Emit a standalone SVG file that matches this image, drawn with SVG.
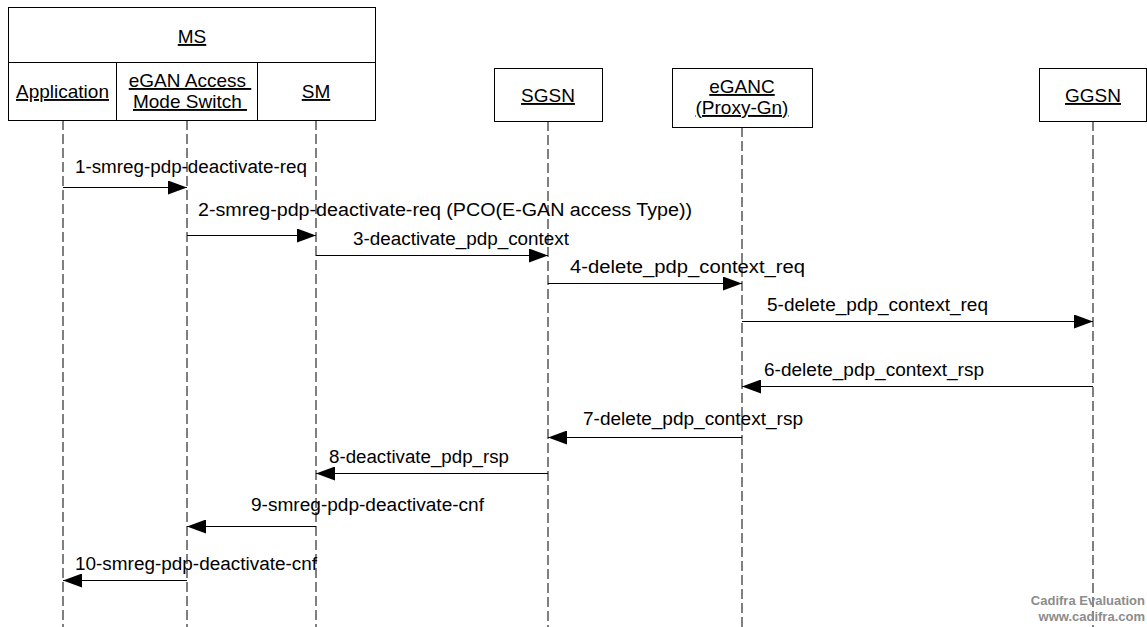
<svg xmlns="http://www.w3.org/2000/svg" width="1147" height="627" viewBox="0 0 1147 627">
<style>
  .box{fill:#fff;stroke:#000;stroke-width:1}
  .hd{font-family:"Liberation Sans",Arial,sans-serif;font-size:19px;fill:#000;text-anchor:middle;text-decoration:underline;white-space:pre}
  .life{stroke:#000;stroke-width:1;stroke-dasharray:10 4;fill:none}
  .msg{stroke:#000;stroke-width:1;fill:none}
  .lbl{font-family:"Liberation Sans",Arial,sans-serif;font-size:18px;fill:#000}
  .wm{font-family:"Liberation Sans",Arial,sans-serif;font-size:13px;font-weight:bold;fill:#8c8c8c;text-anchor:end}
</style>
<defs>
  <marker id="ah" viewBox="0 0 19 14" refX="19" refY="7" markerWidth="19" markerHeight="14" markerUnits="userSpaceOnUse" orient="auto">
    <path d="M0,0 L19,7 L0,14 Z" fill="#000"/>
  </marker>
</defs>
<rect width="1147" height="627" fill="#fff"/>

<g id="lifelines">
  <line class="life" x1="63" y1="120" x2="63" y2="627"/>
  <line class="life" x1="187" y1="120" x2="187" y2="627"/>
  <line class="life" x1="316" y1="120" x2="316" y2="627"/>
  <line class="life" x1="548" y1="121" x2="548" y2="627"/>
  <line class="life" x1="742" y1="127" x2="742" y2="627"/>
  <line class="life" x1="1093" y1="121" x2="1093" y2="627"/>
</g>

<g id="MS">
  <rect class="box" x="8.5" y="7.5" width="367" height="55"/>
  <text class="hd" x="192" y="43">MS</text>
  <g id="Application">
    <rect class="box" x="8.5" y="62.5" width="108" height="58"/>
    <text class="hd" x="62.5" y="98">Application</text>
  </g>
  <g id="eGANAccessModeSwitch">
    <rect class="box" x="116.5" y="62.5" width="141" height="58"/>
    <text class="hd" x="190" y="87">eGAN Access </text>
    <text class="hd" x="190" y="108">Mode Switch </text>
  </g>
  <g id="SM">
    <rect class="box" x="257.5" y="62.5" width="118" height="58"/>
    <text class="hd" x="316" y="98">SM</text>
  </g>
</g>

<g id="SGSN">
  <rect class="box" x="494.5" y="68.5" width="108" height="53"/>
  <text class="hd" x="548" y="102">SGSN</text>
</g>
<g id="eGANC">
  <rect class="box" x="672.5" y="68.5" width="140" height="59"/>
  <text class="hd" x="742" y="93">eGANC</text>
  <text class="hd" x="742" y="114">(Proxy-Gn)</text>
</g>
<g id="GGSN">
  <rect class="box" x="1039.5" y="68.5" width="107" height="53"/>
  <text class="hd" x="1093" y="102">GGSN</text>
</g>

<g id="connectors">
  <line class="msg" x1="63" y1="187.5" x2="187" y2="187.5" marker-end="url(#ah)"/>
  <line class="msg" x1="187" y1="235.5" x2="316" y2="235.5" marker-end="url(#ah)"/>
  <line class="msg" x1="316" y1="255.5" x2="548" y2="255.5" marker-end="url(#ah)"/>
  <line class="msg" x1="548" y1="283.5" x2="742" y2="283.5" marker-end="url(#ah)"/>
  <line class="msg" x1="742" y1="321.5" x2="1093" y2="321.5" marker-end="url(#ah)"/>
  <line class="msg" x1="1093" y1="386.5" x2="742" y2="386.5" marker-end="url(#ah)"/>
  <line class="msg" x1="742" y1="437.5" x2="548" y2="437.5" marker-end="url(#ah)"/>
  <line class="msg" x1="548" y1="473.5" x2="316" y2="473.5" marker-end="url(#ah)"/>
  <line class="msg" x1="316" y1="526.5" x2="187" y2="526.5" marker-end="url(#ah)"/>
  <line class="msg" x1="187" y1="580.5" x2="63" y2="580.5" marker-end="url(#ah)"/>
</g>

<g id="labels">
  <text class="lbl" x="75" y="173" textLength="232" lengthAdjust="spacingAndGlyphs">1-smreg-pdp-deactivate-req</text>
  <text class="lbl" x="198" y="216" textLength="494" lengthAdjust="spacingAndGlyphs">2-smreg-pdp-deactivate-req (PCO(E-GAN access Type))</text>
  <text class="lbl" x="353" y="245" textLength="216" lengthAdjust="spacingAndGlyphs">3-deactivate_pdp_context</text>
  <text class="lbl" x="570" y="273" textLength="235" lengthAdjust="spacingAndGlyphs">4-delete_pdp_context_req</text>
  <text class="lbl" x="767" y="311" textLength="221" lengthAdjust="spacingAndGlyphs">5-delete_pdp_context_req</text>
  <text class="lbl" x="764" y="376" textLength="220" lengthAdjust="spacingAndGlyphs">6-delete_pdp_context_rsp</text>
  <text class="lbl" x="583" y="425" textLength="220" lengthAdjust="spacingAndGlyphs">7-delete_pdp_context_rsp</text>
  <text class="lbl" x="329" y="463" textLength="180" lengthAdjust="spacingAndGlyphs">8-deactivate_pdp_rsp</text>
  <text class="lbl" x="251" y="511" textLength="233" lengthAdjust="spacingAndGlyphs">9-smreg-pdp-deactivate-cnf</text>
  <text class="lbl" x="75" y="570" textLength="242" lengthAdjust="spacingAndGlyphs">10-smreg-pdp-deactivate-cnf</text>
</g>

<g id="watermark">
  <text class="wm" x="1145" y="605">Cadifra Evaluation</text>
  <text class="wm" x="1145" y="621">www.cadifra.com</text>
</g>
</svg>
